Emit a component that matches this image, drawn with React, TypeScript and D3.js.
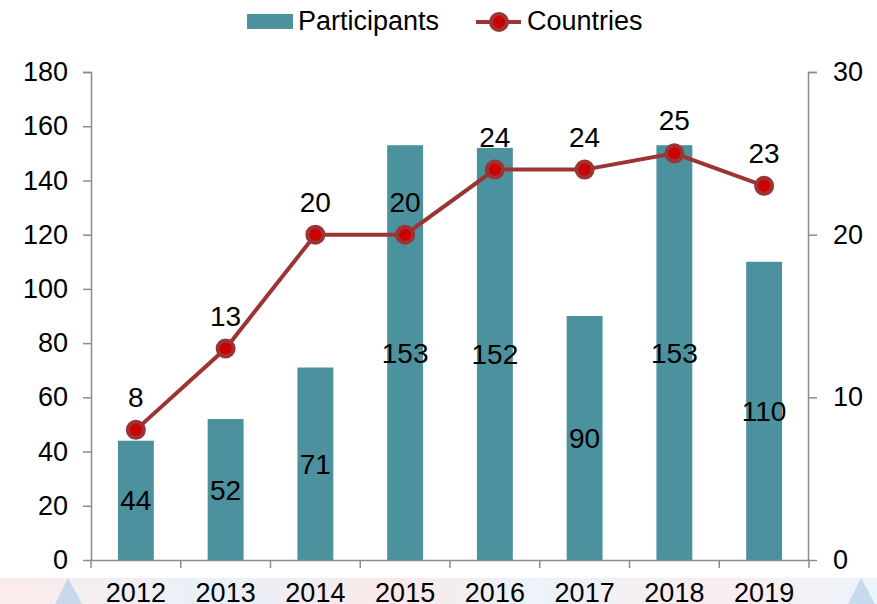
import { useEffect, useRef } from "react";
import * as d3 from "d3";

const WIDTH = 877;
const HEIGHT = 604;
const MARGIN = { top: 72, right: 68, bottom: 44, left: 91 };

const years = ["2012", "2013", "2014", "2015", "2016", "2017", "2018", "2019"];
const participants = [44, 52, 71, 153, 152, 90, 153, 110];
const countries = [8, 13, 20, 20, 24, 24, 25, 23];
const leftTicks = [0, 20, 40, 60, 80, 100, 120, 140, 160, 180];
const rightTicks = [0, 10, 20, 30];

const BAR_COLOR = "#4b929e";
const LINE_COLOR = "#9c3434";
const DOT_COLOR = "#cc0000";
const AXIS_COLOR = "#8c8c8c";
const FONT = "'Liberation Sans', Arial, sans-serif";

export default function App() {
  const axesRef = useRef<SVGGElement>(null);
  const boundsWidth = WIDTH - MARGIN.left - MARGIN.right;
  const boundsHeight = HEIGHT - MARGIN.top - MARGIN.bottom;

  const xScale = d3.scaleBand().domain(years).range([0, boundsWidth]).padding(0);
  const yLeft = d3.scaleLinear().domain([0, 180]).range([boundsHeight, 0]);
  const yRight = d3.scaleLinear().domain([0, 30]).range([boundsHeight, 0]);
  const barWidth = xScale.bandwidth() * 0.4;
  const cx = (y: string) => (xScale(y) || 0) + xScale.bandwidth() / 2;

  useEffect(() => {
    const g = d3.select(axesRef.current);
    g.selectAll("*").remove();

    // left axis
    const left = g.append("g").call(
      d3.axisLeft(yLeft).tickValues(leftTicks).tickSize(8).tickPadding(15)
    );
    // right axis
    const right = g
      .append("g")
      .attr("transform", `translate(${boundsWidth},0)`)
      .call(d3.axisRight(yRight).tickValues(rightTicks).tickSize(8).tickPadding(16));
    // bottom axis, ticks on category boundaries
    const bottom = g
      .append("g")
      .attr("transform", `translate(0,${boundsHeight})`)
      .call(d3.axisBottom(xScale).tickSize(0).tickPadding(23));
    bottom
      .selectAll(".bound")
      .data(d3.range(years.length + 1))
      .join("line")
      .attr("class", "bound")
      .attr("x1", (i) => i * xScale.bandwidth())
      .attr("x2", (i) => i * xScale.bandwidth())
      .attr("y1", 0)
      .attr("y2", 8)
      .attr("stroke", AXIS_COLOR)
      .attr("stroke-width", 1.5);

    [left, right, bottom].forEach((a) => {
      a.selectAll(".domain").attr("stroke", AXIS_COLOR).attr("stroke-width", 1.5);
      a.selectAll(".tick line").attr("stroke", AXIS_COLOR).attr("stroke-width", 1.5);
      a.selectAll("text")
        .attr("fill", "#000")
        .style("font-size", "27px")
        .style("font-family", FONT);
    });
    left.select(".domain").attr("d", `M-8,0.5H0.5V${boundsHeight}`);
    right.select(".domain").attr("d", `M8,0.5H-0.5V${boundsHeight}`);
  }, [xScale, yLeft, yRight, boundsWidth, boundsHeight]);

  const lineBuilder = d3
    .line<number>()
    .x((_, i) => cx(years[i]))
    .y((d) => yRight(d));
  const linePath = lineBuilder(countries) || "";

  return (
    <svg
      width={WIDTH}
      height={HEIGHT}
      style={{ position: "absolute", left: 0, top: 0, background: "#fff" }}
      fontFamily={FONT}
    >
      <defs>
        <linearGradient id="band" x1="0" x2="1" y1="0" y2="0">
          <stop offset="0%" stopColor="#fbe6e6" />
          <stop offset="25%" stopColor="#e3eef8" />
          <stop offset="45%" stopColor="#fbe3e3" />
          <stop offset="60%" stopColor="#e6f0f8" />
          <stop offset="80%" stopColor="#f8e8ea" />
          <stop offset="100%" stopColor="#e8f1f9" />
        </linearGradient>
      </defs>
      {/* faint decorative band at the bottom */}
      <rect x={0} y={578} width={WIDTH} height={26} fill="url(#band)" opacity={0.8} />
      <path d="M55,604 L68,578 L82,604 Z" fill="#b5cfe8" opacity={0.7} />
      <path d="M848,604 L861,578 L875,604 Z" fill="#b5cfe8" opacity={0.7} />

      {/* legend */}
      <rect x={247} y={14} width={46} height={15} fill={BAR_COLOR} />
      <text x={298} y={30} fontSize={27}>Participants</text>
      <line x1={476} x2={521} y1={22} y2={22} stroke={LINE_COLOR} strokeWidth={4} />
      <circle cx={499} cy={22} r={8} fill={DOT_COLOR} stroke={LINE_COLOR} strokeWidth={4} />
      <text x={527} y={30} fontSize={27}>Countries</text>

      <g transform={`translate(${MARGIN.left},${MARGIN.top})`}>
        {participants.map((v, i) => (
          <rect
            key={years[i]}
            x={cx(years[i]) - barWidth / 2}
            y={yLeft(v)}
            width={barWidth}
            height={boundsHeight - yLeft(v)}
            fill={BAR_COLOR}
          />
        ))}
        {participants.map((v, i) => (
          <text
            key={"bl" + i}
            x={cx(years[i])}
            y={(yLeft(v) + boundsHeight) / 2}
            dy="0.36em"
            textAnchor="middle"
            fontSize={28}
          >
            {v}
          </text>
        ))}
        <path d={linePath} fill="none" stroke={LINE_COLOR} strokeWidth={4} />
        {countries.map((v, i) => (
          <circle
            key={"c" + i}
            cx={cx(years[i])}
            cy={yRight(v)}
            r={8}
            fill={DOT_COLOR}
            stroke={LINE_COLOR}
            strokeWidth={4}
          />
        ))}
        {countries.map((v, i) => (
          <text
            key={"cl" + i}
            x={cx(years[i])}
            y={yRight(v) - 23}
            textAnchor="middle"
            fontSize={28}
          >
            {v}
          </text>
        ))}
      </g>
      <g ref={axesRef} transform={`translate(${MARGIN.left},${MARGIN.top})`} />
    </svg>
  );
}
